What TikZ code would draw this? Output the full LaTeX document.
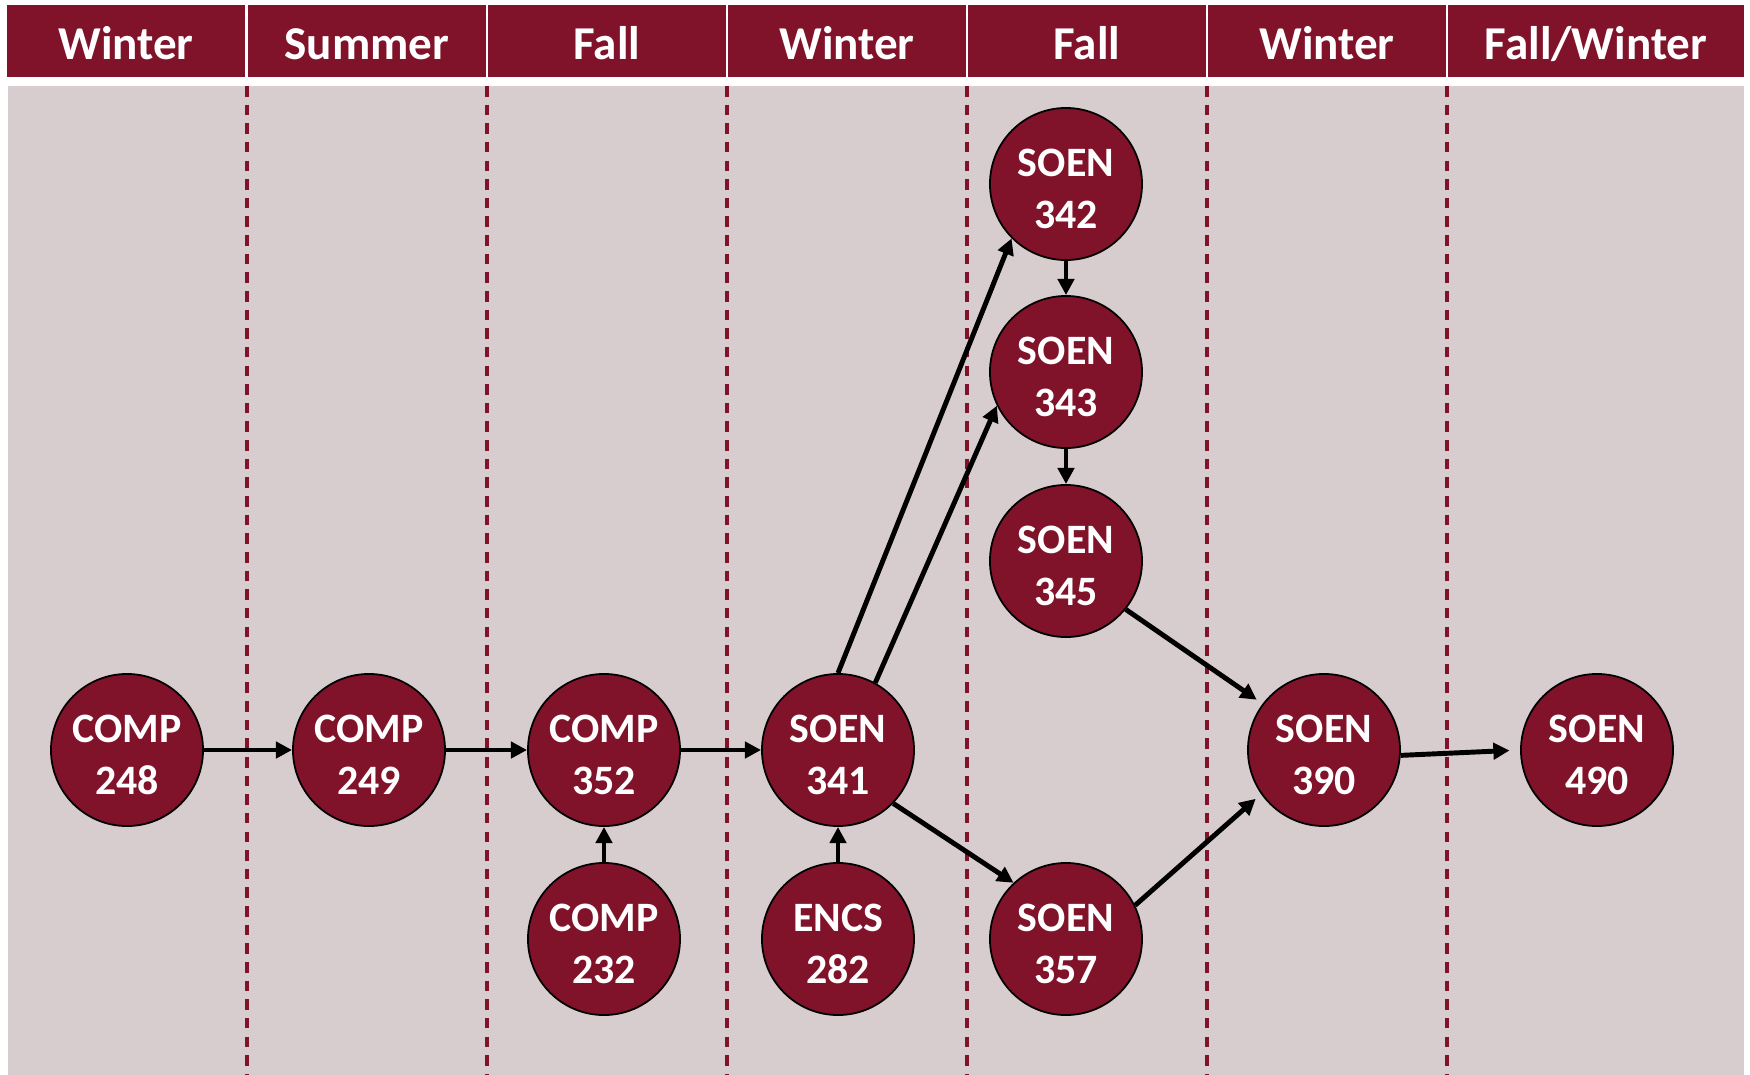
\documentclass[tikz,border=0pt]{standalone}
\usepackage{fontspec}
\setmainfont{Carlito}
\usepackage{tikz}
\usetikzlibrary{arrows.meta}

\definecolor{cumaroon}{RGB}{128,18,42}
\definecolor{cugray}{RGB}{216,205,206}

\newcommand{\ctop}{\rule{0pt}{10.4pt}}

\begin{document}
\begin{tikzpicture}
[x=0.01cm, y=-0.01cm]
\tikzset{
	course/.style = {circle, draw=black, line width=0.5pt, fill=cumaroon, text=white, minimum size=1.52cm, inner sep=0, align=center, font=\fontsize{11.9}{14.8}\selectfont\bfseries},
	term/.style = {fill=cumaroon, text=white, minimum height=0.72cm, inner sep=0, text height=10.8pt, text depth=0pt, font=\fontsize{13.4}{16}\selectfont\bfseries},
	prereq/.style = {-{Triangle[length=4.6pt,width=4.6pt]}, line width=1.4pt},
	divider/.style = {cumaroon, dash pattern=on 3pt off 2.3pt, line width=0.9pt}
}

\useasboundingbox (0,0) rectangle (1750,1075);
\fill[cugray] (8,86) rectangle (1744,1075);

% term columns
\foreach \x in {247,487,727,967,1207,1447}
	\draw[divider] (\x,86) -- (\x,1075);

\node (h1) [term, minimum width=2.38cm] at (126,41) {Winter};
\node (h2) [term, minimum width=2.37cm] at (367,41) {Summer};
\node (h3) [term, minimum width=2.37cm] at (607,41) {Fall};
\node (h4) [term, minimum width=2.37cm] at (847,41) {Winter};
\node (h5) [term, minimum width=2.37cm] at (1087,41) {Fall};
\node (h6) [term, minimum width=2.37cm] at (1327,41) {Winter};
\node (h7) [term, minimum width=2.955cm] at (1596,41) {Fall/Winter};

% courses
\node (c248) [course] at (127,750) {\ctop COMP\\248};
\node (c249) [course] at (369,750) {\ctop COMP\\249};
\node (c352) [course] at (604,750) {\ctop COMP\\352};
\node (c232) [course] at (604,939) {\ctop COMP\\232};
\node (s341) [course] at (838,750) {\ctop SOEN\\341};
\node (e282) [course] at (838,939) {\ctop ENCS\\282};
\node (s342) [course] at (1066,184) {\ctop SOEN\\342};
\node (s343) [course] at (1066,372) {\ctop SOEN\\343};
\node (s345) [course] at (1066,561) {\ctop SOEN\\345};
\node (s357) [course] at (1066,939) {\ctop SOEN\\357};
\node (s390) [course] at (1324,750) {\ctop SOEN\\390};
\node (s490) [course] at (1597,750) {\ctop SOEN\\490};

% prerequisites
\draw[prereq] (c248) -- (c249);
\draw[prereq] (c249) -- (c352);
\draw[prereq] (c352) -- (s341);
\draw[prereq] (c232) -- (c352);
\draw[prereq] (e282) -- (s341);
\draw[prereq] (s341.north) -- (s342.225);
\draw[prereq] (s341.61) -- (s343.206);
\draw[prereq] (s341.-44) -- (s357.133);
\draw[prereq] (s342) -- (s343);
\draw[prereq] (s343) -- (s345);
\draw[prereq, shorten >=2pt] (s345.-39) -- (s390.143);
\draw[prereq, shorten >=2pt] (s357.26) -- (s390.215);
\draw[prereq, shorten >=3pt] (s390.-4) -- (s490.west);
\end{tikzpicture}
\end{document}
